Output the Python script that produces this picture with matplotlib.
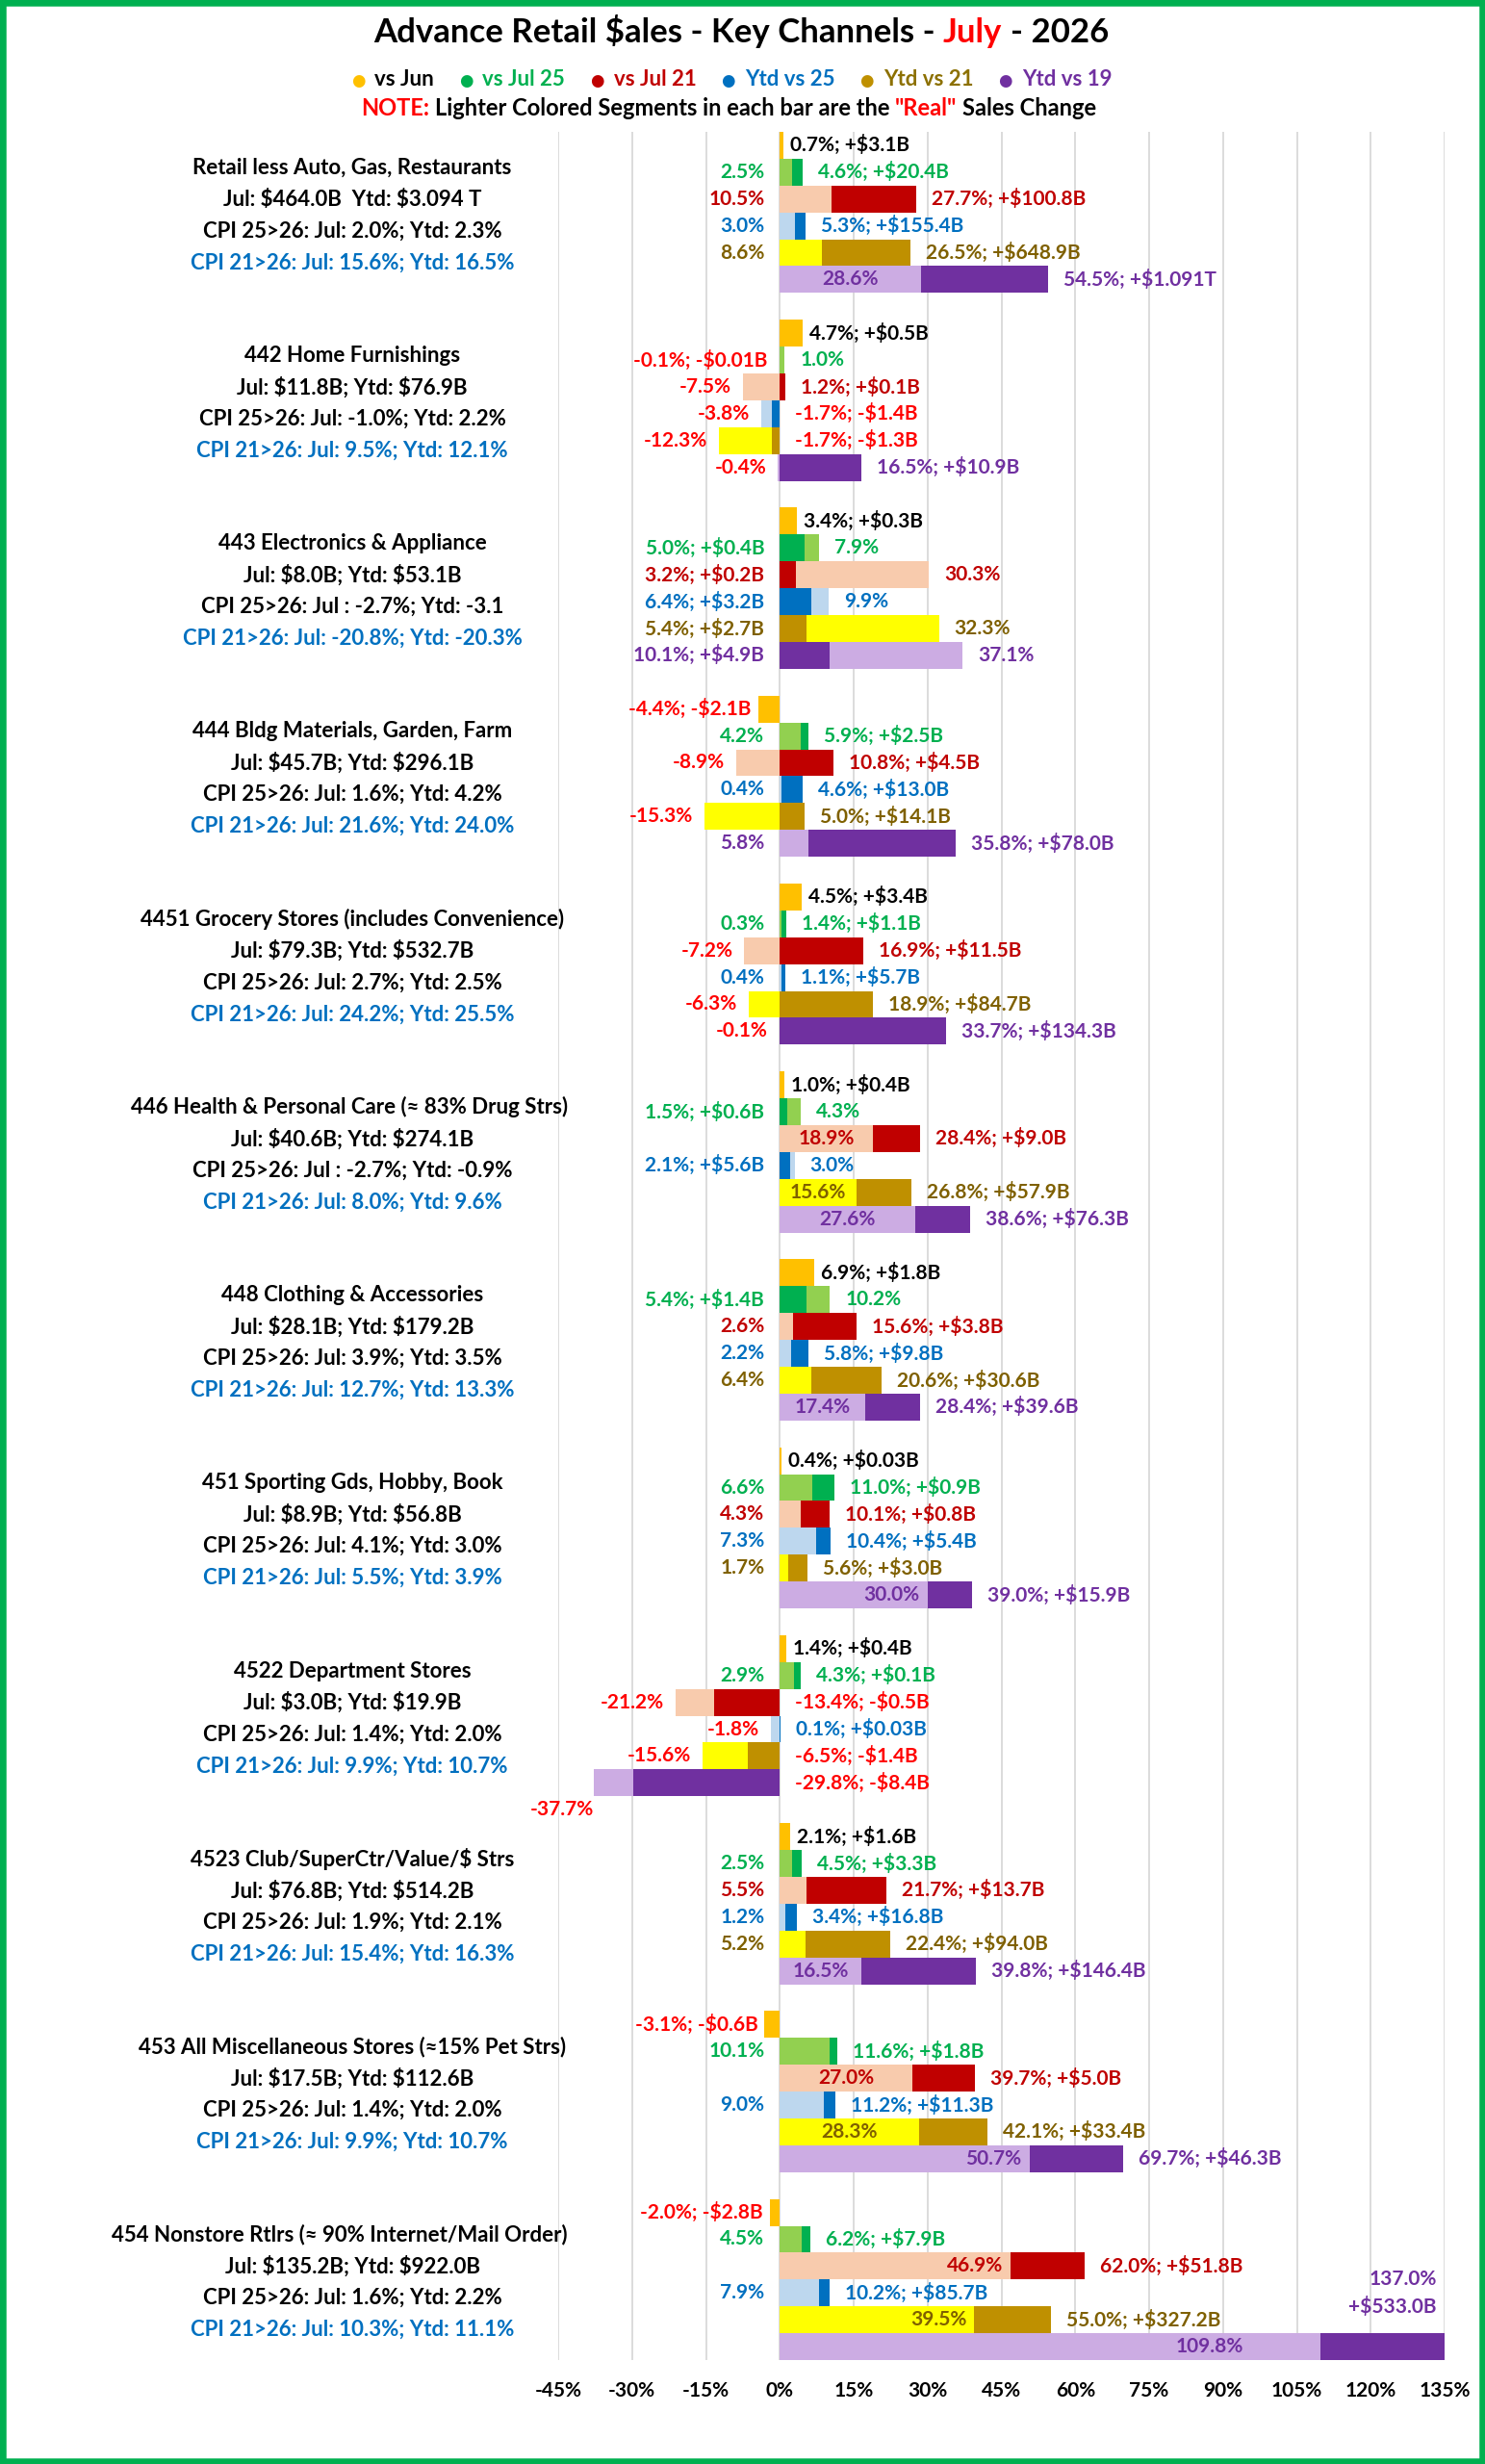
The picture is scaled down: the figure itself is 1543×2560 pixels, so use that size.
import matplotlib
matplotlib.use("Agg")
import matplotlib.pyplot as plt
import matplotlib.transforms as mtransforms
from matplotlib.patches import Rectangle

# ---------------- DATA ----------------
channel_names = [
    "Retail less Auto, Gas, Restaurants",
    "442 Home Furnishings",
    "443 Electronics & Appliance",
    "444 Bldg Materials, Garden, Farm",
    "4451 Grocery Stores (includes Convenience)",
    "446 Health & Personal Care (\u2248 83% Drug Strs)",
    "448 Clothing & Accessories",
    "451 Sporting Gds, Hobby, Book",
    "4522 Department Stores",
    "4523 Club/SuperCtr/Value/$ Strs",
    "453 All Miscellaneous Stores (\u224815% Pet Strs)",
    "454 Nonstore Rtlrs (\u2248 90% Internet/Mail Order)",
]
sales_lines = [
    "Jul: $464.0B  Ytd: $3.094 T",
    "Jul: $11.8B; Ytd: $76.9B",
    "Jul: $8.0B; Ytd: $53.1B",
    "Jul: $45.7B; Ytd: $296.1B",
    "Jul: $79.3B; Ytd: $532.7B",
    "Jul: $40.6B; Ytd: $274.1B",
    "Jul: $28.1B; Ytd: $179.2B",
    "Jul: $8.9B; Ytd: $56.8B",
    "Jul: $3.0B; Ytd: $19.9B",
    "Jul: $76.8B; Ytd: $514.2B",
    "Jul: $17.5B; Ytd: $112.6B",
    "Jul: $135.2B; Ytd: $922.0B",
]
cpi_25_lines = [
    "CPI 25>26: Jul: 2.0%; Ytd: 2.3%",
    "CPI 25>26: Jul: -1.0%; Ytd: 2.2%",
    "CPI 25>26: Jul : -2.7%; Ytd: -3.1",
    "CPI 25>26: Jul: 1.6%; Ytd: 4.2%",
    "CPI 25>26: Jul: 2.7%; Ytd: 2.5%",
    "CPI 25>26: Jul : -2.7%; Ytd: -0.9%",
    "CPI 25>26: Jul: 3.9%; Ytd: 3.5%",
    "CPI 25>26: Jul: 4.1%; Ytd: 3.0%",
    "CPI 25>26: Jul: 1.4%; Ytd: 2.0%",
    "CPI 25>26: Jul: 1.9%; Ytd: 2.1%",
    "CPI 25>26: Jul: 1.4%; Ytd: 2.0%",
    "CPI 25>26: Jul: 1.6%; Ytd: 2.2%",
]
cpi_21_lines = [
    "CPI 21>26: Jul: 15.6%; Ytd: 16.5%",
    "CPI 21>26: Jul: 9.5%; Ytd: 12.1%",
    "CPI 21>26: Jul: -20.8%; Ytd: -20.3%",
    "CPI 21>26: Jul: 21.6%; Ytd: 24.0%",
    "CPI 21>26: Jul: 24.2%; Ytd: 25.5%",
    "CPI 21>26: Jul: 8.0%; Ytd: 9.6%",
    "CPI 21>26: Jul: 12.7%; Ytd: 13.3%",
    "CPI 21>26: Jul: 5.5%; Ytd: 3.9%",
    "CPI 21>26: Jul: 9.9%; Ytd: 10.7%",
    "CPI 21>26: Jul: 15.4%; Ytd: 16.3%",
    "CPI 21>26: Jul: 9.9%; Ytd: 10.7%",
    "CPI 21>26: Jul: 10.3%; Ytd: 11.1%",
]

vs_jun = [0.7, 4.7, 3.4, -4.4, 4.5, 1.0, 6.9, 0.4, 1.4, 2.1, -3.1, -2.0]
vs_jun_usd = ["+$3.1B", "+$0.5B", "+$0.3B", "-$2.1B", "+$3.4B", "+$0.4B",
              "+$1.8B", "+$0.03B", "+$0.4B", "+$1.6B", "-$0.6B", "-$2.8B"]

jul25_nom = [4.6, -0.1, 5.0, 5.9, 1.4, 1.5, 5.4, 11.0, 4.3, 4.5, 11.6, 6.2]
jul25_real = [2.5, 1.0, 7.9, 4.2, 0.3, 4.3, 10.2, 6.6, 2.9, 2.5, 10.1, 4.5]
jul25_usd = ["+$20.4B", "-$0.01B", "+$0.4B", "+$2.5B", "+$1.1B", "+$0.6B",
             "+$1.4B", "+$0.9B", "+$0.1B", "+$3.3B", "+$1.8B", "+$7.9B"]

jul21_nom = [27.7, 1.2, 3.2, 10.8, 16.9, 28.4, 15.6, 10.1, -13.4, 21.7, 39.7, 62.0]
jul21_real = [10.5, -7.5, 30.3, -8.9, -7.2, 18.9, 2.6, 4.3, -21.2, 5.5, 27.0, 46.9]
jul21_usd = ["+$100.8B", "+$0.1B", "+$0.2B", "+$4.5B", "+$11.5B", "+$9.0B",
             "+$3.8B", "+$0.8B", "-$0.5B", "+$13.7B", "+$5.0B", "+$51.8B"]

ytd25_nom = [5.3, -1.7, 6.4, 4.6, 1.1, 2.1, 5.8, 10.4, 0.1, 3.4, 11.2, 10.2]
ytd25_real = [3.0, -3.8, 9.9, 0.4, 0.4, 3.0, 2.2, 7.3, -1.8, 1.2, 9.0, 7.9]
ytd25_usd = ["+$155.4B", "-$1.4B", "+$3.2B", "+$13.0B", "+$5.7B", "+$5.6B",
             "+$9.8B", "+$5.4B", "+$0.03B", "+$16.8B", "+$11.3B", "+$85.7B"]

ytd21_nom = [26.5, -1.7, 5.4, 5.0, 18.9, 26.8, 20.6, 5.6, -6.5, 22.4, 42.1, 55.0]
ytd21_real = [8.6, -12.3, 32.3, -15.3, -6.3, 15.6, 6.4, 1.7, -15.6, 5.2, 28.3, 39.5]
ytd21_usd = ["+$648.9B", "-$1.3B", "+$2.7B", "+$14.1B", "+$84.7B", "+$57.9B",
             "+$30.6B", "+$3.0B", "-$1.4B", "+$94.0B", "+$33.4B", "+$327.2B"]

ytd19_nom = [54.5, 16.5, 10.1, 35.8, 33.7, 38.6, 28.4, 39.0, -29.8, 39.8, 69.7, 137.0]
ytd19_real = [28.6, -0.4, 37.1, 5.8, -0.1, 27.6, 17.4, 30.0, -37.7, 16.5, 50.7, 109.8]
ytd19_usd = ["+$1.091T", "+$10.9B", "+$4.9B", "+$78.0B", "+$134.3B", "+$76.3B",
             "+$39.6B", "+$15.9B", "-$8.4B", "+$146.4B", "+$46.3B", "+$533.0B"]

x_ticks = [-45, -30, -15, 0, 15, 30, 45, 60, 75, 90, 105, 120, 135]
x_tick_labels = ["-45%", "-30%", "-15%", "0%", "15%", "30%", "45%", "60%",
                 "75%", "90%", "105%", "120%", "135%"]

legend_names = ["vs Jun", "vs Jul 25", "vs Jul 21", "Ytd vs 25", "Ytd vs 21", "Ytd vs 19"]

# ---------------- STYLE ----------------
W, H, DPI = 1543, 2560, 100
plt.rcParams["font.family"] = ["Lato", "DejaVu Sans"]
plt.rcParams["font.weight"] = "bold"
plt.rcParams["text.parse_math"] = False

RED = "#FF0000"
dark_cols = ["#FFC000", "#00B050", "#C00000", "#0070C0", "#BF9000", "#7030A0"]
light_cols = [None, "#92D050", "#F8CBAD", "#BDD7EE", "#FFFF00", "#CCACE3"]
label_cols = ["#000000", "#00B050", "#C00000", "#0070C0", "#7F6000", "#7030A0"]
legend_text_cols = ["#000000", "#00B050", "#C00000", "#0070C0", "#8C7000", "#7030A0"]

LBL_FS = 15
real_color_override = {(3, 3): RED, (4, 5): "#7030A0"}

fig = plt.figure(figsize=(W / DPI, H / DPI), dpi=DPI)
renderer = fig.canvas.get_renderer()

AX_L, AX_R, AX_T, AX_B = 580, 1501, 137, 2452
ax = fig.add_axes([AX_L / W, 1 - AX_B / H, (AX_R - AX_L) / W, (AX_B - AX_T) / H])
ax.set_xlim(-45, 135)
ax.set_ylim(82.5, -0.5)
XMIN, XMAX = -45, 135
PX_PER_PCT = (AX_R - AX_L) / (XMAX - XMIN)

ax.set_xticks(x_ticks)
ax.set_xticklabels(x_tick_labels)
ax.tick_params(axis="x", length=0, pad=16, labelsize=15)
for lab in ax.get_xticklabels():
    lab.set_fontweight("bold")
ax.set_yticks([])
for s in ax.spines.values():
    s.set_visible(False)
ax.set_axisbelow(True)
ax.xaxis.grid(True, color="#D9D9D9", linewidth=1.3)


def text_w(s, fs, family=None):
    kw = {} if family is None else {"family": family}
    t = fig.text(0, 0, s, fontsize=fs, fontweight="bold", **kw)
    w = t.get_window_extent(renderer).width
    t.remove()
    return w


def put(x, y, s, color, side, gap_px=12, dy=0):
    pt = 72.0 / DPI
    if side == "right":
        ha, dx = "left", gap_px * pt
    elif side == "left":
        ha, dx = "right", -gap_px * pt
    else:
        ha, dx = "center", 0
    ax.annotate(s, xy=(x, y + dy), xytext=(dx, 0), textcoords="offset points",
                ha=ha, va="center", color=color, fontsize=LBL_FS,
                fontweight="bold", annotation_clip=False)


def fmt(v):
    return f"{v:.1f}%"


def col_for(v, si):
    return RED if v < 0 else label_cols[si]


def place_left(x, y, s, color, gap_px):
    w = text_w(s, LBL_FS)
    if (x - XMIN) * PX_PER_PCT - gap_px - w < -5:
        ax.annotate(s, xy=(x, y + 1.0), ha="right", va="center", color=color,
                    fontsize=LBL_FS, fontweight="bold", annotation_clip=False)
    else:
        put(x, y, s, color, "left", gap_px)


def place_right(x, y, s_pct, s_usd, color, gap_px):
    if x > XMAX:
        ax.annotate(s_pct + "\n" + s_usd, xy=(XMAX, y - 2.0), xytext=(-8 * 0.72, 0),
                    textcoords="offset points", ha="right", va="center",
                    multialignment="right", linespacing=1.45, color=color,
                    fontsize=LBL_FS, fontweight="bold", annotation_clip=False)
    else:
        s = s_pct if s_usd is None else s_pct + "; " + s_usd
        put(x, y, s, color, "right", gap_px)


series = [
    (jul25_nom, jul25_real, jul25_usd),
    (jul21_nom, jul21_real, jul21_usd),
    (ytd25_nom, ytd25_real, ytd25_usd),
    (ytd21_nom, ytd21_real, ytd21_usd),
    (ytd19_nom, ytd19_real, ytd19_usd),
]

for g in range(len(channel_names)):
    base = g * 7
    # vs Jun single bar
    v = vs_jun[g]
    ax.barh(base, v, height=1.0, color=dark_cols[0], linewidth=0)
    s = f"{fmt(v)}; {vs_jun_usd[g]}"
    if v >= 0:
        put(v, base, s, label_cols[0], "right", 7)
    else:
        put(v, base, s, RED, "left", 7)

    for k, (nom, real, usd) in enumerate(series):
        si = k + 1
        y = base + si
        n, r = nom[g], real[g]
        # longer bar first, shorter on top
        if abs(r) >= abs(n):
            ax.barh(y, r, height=1.0, color=light_cols[si], linewidth=0)
            ax.barh(y, n, height=1.0, color=dark_cols[si], linewidth=0)
        else:
            ax.barh(y, n, height=1.0, color=dark_cols[si], linewidth=0)
            ax.barh(y, r, height=1.0, color=light_cols[si], linewidth=0)

        n_col = col_for(n, si)
        r_col = real_color_override.get((g, k), col_for(r, si))
        n_pct, r_pct = fmt(n), fmt(r)
        n_full = f"{n_pct}; {usd[g]}"

        if n >= 0 and r >= 0:
            if n >= r:
                place_right(n, y, n_pct, usd[g], n_col, 16)
                w = text_w(r_pct, LBL_FS)
                seg = r * PX_PER_PCT
                if seg >= w + 14:
                    if seg < 150:
                        put(r / 2, y, r_pct, r_col, "center")
                    elif seg > 400:
                        put(r, y, r_pct, r_col, "left", 80)
                    else:
                        put(r, y, r_pct, r_col, "left", 8)
                else:
                    put(0, y, r_pct, r_col, "left", 16)
            else:
                put(r, y, r_pct, r_col, "right", 16)
                put(0, y, n_full, n_col, "left", 16)
        elif n < 0 and r < 0:
            if abs(r) >= abs(n):
                place_left(r, y, r_pct, r_col, 12)
                put(0, y, n_full, n_col, "right", 16)
            else:
                place_left(n, y, n_full, n_col, 12)
                put(0, y, r_pct, r_col, "right", 16)
        else:
            if n >= 0:
                place_right(n, y, n_pct, usd[g], n_col, 16)
                place_left(r, y, r_pct, r_col, 12)
            else:
                place_left(n, y, n_full, n_col, 12)
                put(r, y, r_pct, r_col, "right", 16)

# ---------------- LEFT DESCRIPTIONS ----------------
blend = mtransforms.blended_transform_factory(fig.transFigure, ax.transData)
LEFT_FS = 16
CX, RIGHT_LIMIT = 366, 590
for g in range(len(channel_names)):
    yc = g * 7 + 2.6
    lines = [(channel_names[g], "black"), (sales_lines[g], "black"),
             (cpi_25_lines[g], "black"), (cpi_21_lines[g], "#0070C0")]
    for j, (s, c) in enumerate(lines):
        w = text_w(s, LEFT_FS)
        cx = min(CX, RIGHT_LIMIT - w / 2)
        fig.text(cx / W, yc + (j - 1.5) * 1.18, s, transform=blend, ha="center",
                 va="center", fontsize=LEFT_FS, fontweight="bold", color=c)


# ---------------- HEADER ----------------
def rich_line(y_base_px, pieces, cx_px):
    """pieces: list of (text, color, fontsize, gap_after_px, family)"""
    objs, widths = [], []
    for s, c, fs, gap, fam in pieces:
        kw = {} if fam is None else {"family": fam}
        t = fig.text(0, 1 - y_base_px / H, s, color=c, fontsize=fs,
                     fontweight="bold", ha="left", va="baseline", **kw)
        objs.append(t)
        widths.append(t.get_window_extent(renderer).width)
    total = sum(widths) + sum(p[3] for p in pieces[:-1])
    x = cx_px - total / 2
    for t, w, p in zip(objs, widths, pieces):
        t.set_x(x / W)
        x += w + p[3]


TITLE_FS = 25
sp = text_w("a a", TITLE_FS) - text_w("aa", TITLE_FS)
rich_line(44, [("Advance Retail $ales - Key Channels -", "black", TITLE_FS, sp, None),
               ("July", RED, TITLE_FS, sp, None),
               ("- 2026", "black", TITLE_FS, 0, None)], 770)

LEG_FS = 16
pieces = []
for i, name in enumerate(legend_names):
    pieces.append(("\u25CF", dark_cols[i], 12, 10, "DejaVu Sans"))
    pieces.append((name, legend_text_cols[i], LEG_FS, 26, None))
rich_line(89, pieces, 760)

NOTE_FS = 17
sp2 = text_w("a a", NOTE_FS) - text_w("aa", NOTE_FS)
rich_line(120, [("NOTE:", RED, NOTE_FS, sp2, None),
                ("Lighter Colored Segments in each bar are the", "black", NOTE_FS, sp2, None),
                ('"Real"', RED, NOTE_FS, sp2, None),
                ("Sales Change", "black", NOTE_FS, 0, None)], 757)

# green border
fig.patches.append(Rectangle((0, 0), 1, 1, transform=fig.transFigure, fill=False,
                             edgecolor="#00B050", linewidth=9, zorder=10))

fig.savefig("out.png", dpi=DPI, facecolor="white")
